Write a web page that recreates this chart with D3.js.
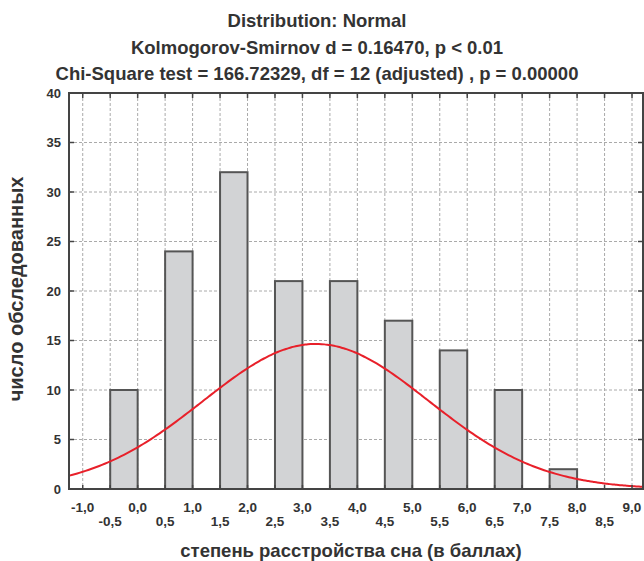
<!DOCTYPE html>
<html><head><meta charset="utf-8">
<script src="https://cdn.jsdelivr.net/npm/d3@7"></script>
<style>
body{margin:0;background:#fff;}
text{font-family:"Liberation Sans",Arial,sans-serif;font-weight:bold;fill:#333;}
</style></head>
<body><svg id="c" width="644" height="561"></svg>
<script>
// Histogram bins: [lower, upper] edges and counts
const binLower = [-0.5, 0.5, 1.5, 2.5, 3.5, 4.5, 5.5, 6.5, 7.5];
const binUpper = [0.0, 1.0, 2.0, 3.0, 4.0, 5.0, 6.0, 7.0, 8.0];
const scoreValues = [0, 1, 2, 3, 4, 5, 6, 7, 8];
const counts = [10, 24, 32, 21, 21, 17, 14, 10, 2];
const yTicks = [0, 5, 10, 15, 20, 25, 30, 35, 40];
const xTicksUpper = ["-1,0","0,0","1,0","2,0","3,0","4,0","5,0","6,0","7,0","8,0","9,0"];
const xTicksLower = ["-0,5","0,5","1,5","2,5","3,5","4,5","5,5","6,5","7,5","8,5"];
const titles = ["Distribution: Normal",
  "Kolmogorov-Smirnov d = 0.16470, p < 0.01",
  "Chi-Square test = 166.72329, df = 12 (adjusted) , p = 0.00000"];
const xTitle = "степень расстройства сна (в баллах)";
const yTitle = "число обследованных";

const svg = d3.select("#c");
const L = 69, R = 643, T = 93, B = 489;
const x = d3.scaleLinear().domain([-1.25, 9.2]).range([L, R]);
const y = d3.scaleLinear().domain([0, 40]).range([B, T]);

// fitted normal from data
const n = d3.sum(counts);
const mean = d3.sum(scoreValues.map((v,i)=>v*counts[i]))/n;
const sd = Math.sqrt(d3.sum(scoreValues.map((v,i)=>counts[i]*(v-mean)**2))/(n-1));
const bw = 0.5;

// grid
const gridX = d3.range(-1.0, 9.01, 0.5);
svg.append("g").selectAll("line").data(gridX).join("line")
  .attr("x1", d=>x(d)).attr("x2", d=>x(d)).attr("y1", T).attr("y2", B)
  .attr("stroke", "#aaa").attr("stroke-dasharray", "3,2").attr("stroke-width", 1);
svg.append("g").selectAll("line").data(yTicks.filter(d=>d>0&&d<40)).join("line")
  .attr("x1", L).attr("x2", R).attr("y1", d=>y(d)).attr("y2", d=>y(d))
  .attr("stroke", "#aaa").attr("stroke-dasharray", "3,2").attr("stroke-width", 1);

// bars
svg.append("g").selectAll("rect").data(counts).join("rect")
  .attr("x", (d,i)=>x(binLower[i])).attr("width", (d,i)=>x(binUpper[i])-x(binLower[i]))
  .attr("y", d=>y(d)).attr("height", d=>y(0)-y(d))
  .attr("fill", "#d2d3d5").attr("stroke", "#555").attr("stroke-width", 2);

// normal curve
svg.append("clipPath").attr("id","clip").append("rect").attr("x",L).attr("y",T).attr("width",R-L).attr("height",B-T);
const pts = d3.range(-1.25, 9.21, 0.05).map(v=>[v, n*bw*Math.exp(-0.5*((v-mean)/sd)**2)/(sd*Math.sqrt(2*Math.PI))]);
svg.append("path").datum(pts).attr("clip-path","url(#clip)")
  .attr("d", d3.line().x(d=>x(d[0])).y(d=>y(d[1])).curve(d3.curveBasis))
  .attr("fill","none").attr("stroke","#e8202a").attr("stroke-width",2);

// frame
svg.append("rect").attr("x",L).attr("y",T).attr("width",R-L).attr("height",B-T)
  .attr("fill","none").attr("stroke","#444").attr("stroke-width",2);

// ticks
const tk = svg.append("g").attr("stroke","#444").attr("stroke-width",1.5);
gridX.forEach(v=>{
  tk.append("line").attr("x1",x(v)).attr("x2",x(v)).attr("y1",T).attr("y2",T+5);
  tk.append("line").attr("x1",x(v)).attr("x2",x(v)).attr("y1",B).attr("y2",B-4);
});
yTicks.forEach(v=>{
  tk.append("line").attr("x1",L).attr("x2",L+5).attr("y1",y(v)).attr("y2",y(v));
  tk.append("line").attr("x1",R).attr("x2",R-5).attr("y1",y(v)).attr("y2",y(v));
});

// y tick labels
svg.append("g").selectAll("text").data(yTicks).join("text")
  .attr("x", 61).attr("y", d=>y(d)).attr("dy","0.36em").attr("text-anchor","end")
  .attr("font-size", 13).text(d=>d);

// x tick labels
const upperVals = d3.range(-1, 9.01, 1);
const lowerVals = d3.range(-0.5, 8.51, 1);
svg.append("g").selectAll("text").data(xTicksUpper).join("text")
  .attr("x",(d,i)=>x(upperVals[i])).attr("y",512).attr("text-anchor","middle")
  .attr("font-size",13.5).text(d=>d);
svg.append("g").selectAll("text").data(xTicksLower).join("text")
  .attr("x",(d,i)=>x(lowerVals[i])).attr("y",526).attr("text-anchor","middle")
  .attr("font-size",13.5).text(d=>d);

// titles
const ty = [27, 54, 80];
titles.forEach((t,i)=>svg.append("text").attr("x",317).attr("y",ty[i])
  .attr("text-anchor","middle").attr("font-size",18.5).text(t));

svg.append("text").attr("x",351).attr("y",557).attr("text-anchor","middle")
  .attr("font-size",18.5).text(xTitle);
svg.append("text").attr("transform","translate(23,289) rotate(-90)")
  .attr("text-anchor","middle").attr("font-size",20).text(yTitle);
</script></body></html>
